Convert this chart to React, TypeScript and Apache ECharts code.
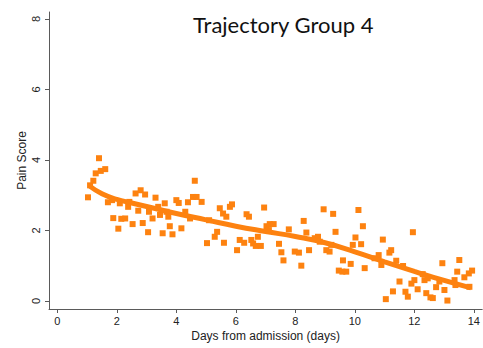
import React, { useEffect, useRef } from "react";
import * as echarts from "echarts";

const titleText = "Trajectory Group 4";
const xName = "Days from admission (days)";
const yName = "Pain Score";
const xTicks = [0, 2, 4, 6, 8, 10, 12, 14];
const yTicks = [0, 2, 4, 6, 8];

const observed: number[][] = [
  [1.03, 2.94], [1.1, 3.28], [1.21, 3.41], [1.29, 3.62], [1.4, 4.05], [1.46, 3.69], [1.61, 3.74],
  [1.7, 2.8], [1.84, 2.86], [1.88, 2.35], [2.05, 2.05], [2.1, 2.77], [2.15, 2.33], [2.28, 2.34],
  [2.38, 2.67], [2.42, 2.81], [2.53, 2.18], [2.63, 3.05], [2.72, 2.56], [2.8, 3.14], [2.87, 2.21],
  [2.95, 3.02], [3.05, 1.95], [3.08, 2.53], [3.2, 2.34], [3.3, 2.93],
  [3.39, 2.67], [3.45, 2.44], [3.54, 1.92], [3.61, 2.77], [3.67, 2.53], [3.73, 2.39], [3.78, 2.12],
  [3.87, 1.89], [4.0, 2.86], [4.08, 2.78], [4.17, 2.06], [4.3, 2.53], [4.39, 2.8], [4.46, 2.34],
  [4.56, 2.95], [4.62, 3.41], [4.68, 2.95], [4.85, 2.81],
  [5.03, 1.64], [5.1, 2.29], [5.29, 1.82], [5.37, 1.96], [5.46, 2.63], [5.57, 2.48], [5.6, 1.65],
  [5.68, 2.39], [5.8, 2.67], [5.87, 2.74], [6.04, 1.44], [6.13, 1.73], [6.28, 1.65], [6.36, 2.46],
  [6.44, 2.39], [6.52, 1.73], [6.58, 1.63], [6.67, 1.56], [6.74, 1.82], [6.84, 1.56], [6.95, 2.65],
  [7.03, 2.12], [7.11, 2.01], [7.14, 2.18], [7.27, 2.18], [7.45, 1.62], [7.53, 1.38], [7.6, 1.15],
  [7.78, 2.03], [7.98, 1.4], [8.12, 1.37], [8.2, 1.0], [8.28, 2.27], [8.37, 1.94], [8.46, 1.44],
  [8.65, 1.78], [8.76, 1.82], [8.82, 1.68], [8.95, 2.6],
  [9.04, 1.44], [9.15, 1.4], [9.21, 1.59], [9.27, 2.47], [9.35, 1.96], [9.46, 0.86], [9.58, 0.83],
  [9.6, 1.15], [9.71, 0.83], [9.86, 1.05], [9.93, 1.59], [10.02, 1.8], [10.12, 2.58], [10.21, 1.61],
  [10.27, 2.12], [10.33, 0.93], [10.66, 1.21], [10.8, 1.3], [10.89, 1.02], [10.94, 1.74],
  [11.04, 0.05], [11.16, 1.37], [11.22, 1.44], [11.28, 0.27], [11.39, 1.14], [11.5, 0.55], [11.62, 0.99],
  [11.7, 0.26], [11.78, 0.12], [11.9, 0.49], [11.95, 1.95], [12.0, 0.59], [12.11, 0.33], [12.28, 0.76],
  [12.34, 0.59], [12.4, 0.22], [12.45, 0.64], [12.54, 0.1], [12.62, 0.08], [12.73, 0.39], [12.84, 0.55],
  [12.94, 1.07], [13.01, 0.31], [13.11, 0.01], [13.35, 0.59], [13.38, 0.45], [13.44, 0.83], [13.51, 1.16],
  [13.68, 0.67], [13.83, 0.78], [13.94, 0.86], [13.85, 0.4],
];

const fittedX = [1.1, 1.5, 2, 2.5, 3, 3.5, 4, 5, 6, 7, 8, 9, 10, 11, 12, 13, 13.9];
const fittedY = [3.25, 3.04, 2.88, 2.78, 2.68, 2.58, 2.48, 2.3, 2.12, 1.97, 1.83, 1.65, 1.39, 1.11, 0.84, 0.58, 0.37];

const ORANGE = "#FD8210";
const AXIS = "#5a5a5a";

export default function App() {
  const ref = useRef<HTMLDivElement>(null);
  useEffect(() => {
    document.body.style.margin = "0";
    const chart = echarts.init(ref.current!, undefined, { renderer: "svg" });
    const labelFont = "'Liberation Sans', Arial, sans-serif";
    chart.setOption({
      animation: false,
      backgroundColor: "#ffffff",
      title: {
        text: titleText,
        left: 188,
        top: 8,
        textStyle: { fontFamily: "Lato, 'Open Sans', sans-serif", fontSize: 22, fontWeight: "normal", color: "#111" },
      },
      grid: { left: 49, right: 0, top: 12, bottom: 39 },
      xAxis: {
        type: "value",
        min: -0.28,
        max: 14.28,
        name: xName,
        nameLocation: "middle",
        nameGap: 21,
        nameMoveOverlap: false,
        nameTextStyle: { fontFamily: labelFont, fontSize: 12, color: "#222" },
        axisLine: { show: true, onZero: false, lineStyle: { color: AXIS, width: 1 } },
        axisTick: { show: true, length: 4, customValues: xTicks, lineStyle: { color: AXIS } },
        axisLabel: { customValues: xTicks, margin: 6, fontFamily: labelFont, fontSize: 11, color: "#222" },
        splitLine: { show: false },
      },
      yAxis: {
        type: "value",
        min: -0.23,
        max: 8.2,
        name: yName,
        nameLocation: "middle",
        nameGap: 21,
        nameMoveOverlap: false,
        nameTextStyle: { fontFamily: labelFont, fontSize: 12, color: "#222" },
        axisLine: { show: true, onZero: false, lineStyle: { color: AXIS, width: 1 } },
        axisTick: { show: true, length: 4, customValues: yTicks, lineStyle: { color: AXIS } },
        axisLabel: { customValues: yTicks, rotate: 90, margin: 8, fontFamily: labelFont, fontSize: 11, color: "#222" },
        splitLine: { show: false },
      },
      series: [
        {
          type: "scatter",
          data: observed,
          symbol: "rect",
          symbolSize: 6,
          itemStyle: { color: ORANGE, opacity: 1 },
          z: 2,
        },
        {
          type: "line",
          data: fittedX.map((x, i) => [x, fittedY[i]]),
          smooth: true,
          showSymbol: false,
          lineStyle: { color: ORANGE, width: 5 },
          z: 3,
        },
      ],
    });
    return () => chart.dispose();
  }, []);
  return <div ref={ref} style={{ width: 483, height: 348, position: "absolute", left: 0, top: 0 }} />;
}
